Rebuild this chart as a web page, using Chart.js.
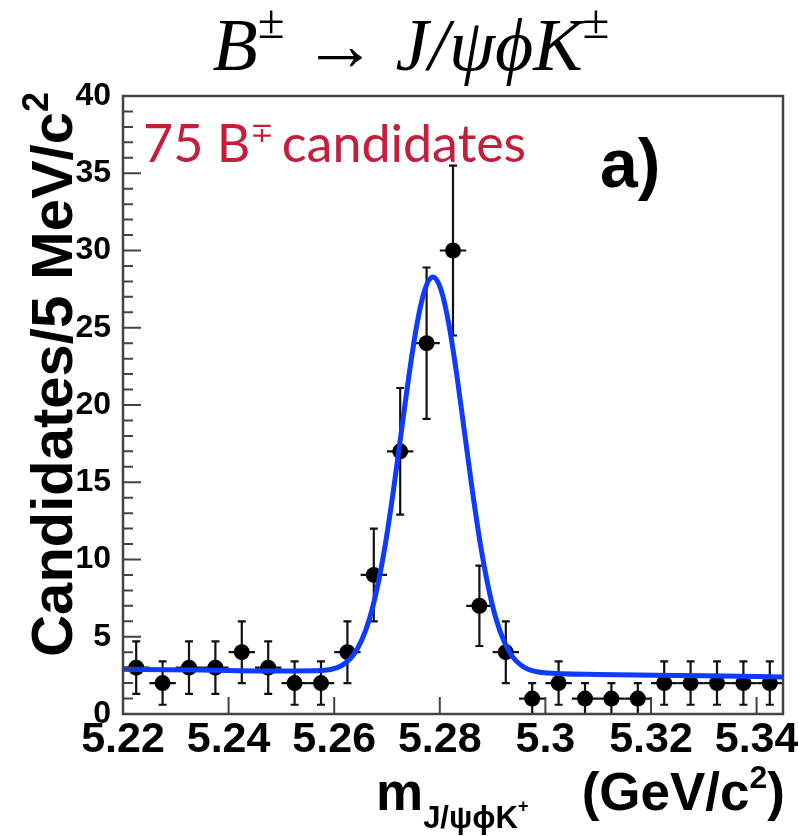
<!DOCTYPE html>
<html>
<head>
<meta charset="utf-8">
<script src="https://cdn.jsdelivr.net/npm/chart.js@4.4.0/dist/chart.umd.min.js"></script>
<style>
  html, body { margin: 0; padding: 0; background: #fff; }
  #wrap { width: 798px; height: 836px; }
</style>
</head>
<body>
<div id="wrap"><canvas id="massChart" width="798" height="836"></canvas></div>
<script>
// 5 MeV bins, centres in GeV/c^2
const binCenters = [5.2225, 5.2275, 5.2325, 5.2375, 5.2425, 5.2475, 5.2525, 5.2575, 5.2625, 5.2675,
                    5.2725, 5.2775, 5.2825, 5.2875, 5.2925, 5.2975, 5.3025, 5.3075, 5.3125, 5.3175,
                    5.3225, 5.3275, 5.3325, 5.3375, 5.3425];
const candidates = [3, 2, 3, 3, 4, 3, 2, 2, 4, 9, 17, 24, 30, 7, 4, 1, 2, 1, 1, 1, 2, 2, 2, 2, 2];
const candErrors = [1.7, 1.4, 1.7, 1.7, 2.0, 1.7, 1.4, 1.4, 2.0, 3.0, 4.1, 4.9, 5.5, 2.6, 2.0, 1.0, 1.4,
                    1.0, 1.0, 1.0, 1.4, 1.4, 1.4, 1.4, 1.4];
const binHalfWidth = 0.0025;

// fit curve
const fitX = [5.220, 5.235, 5.250, 5.2577, 5.2607, 5.2622, 5.2637, 5.2652, 5.2667, 5.2682, 5.2697,
              5.2712, 5.2727, 5.2742, 5.2757, 5.2772, 5.2787, 5.2802, 5.2817, 5.2832, 5.2847, 5.2862,
              5.2877, 5.2892, 5.2907, 5.2922, 5.2937, 5.2952, 5.2967, 5.2997, 5.310, 5.330, 5.345];
const fitY = [2.90, 2.84, 2.78, 2.81, 3.02, 3.32, 3.85, 4.77, 6.18, 8.26, 11.02,
              14.43, 18.23, 22.02, 25.28, 27.50, 28.28, 27.49, 25.26, 21.99, 18.19, 14.38,
              10.96, 8.19, 6.10, 4.68, 3.75, 3.21, 2.90, 2.67, 2.56, 2.48, 2.40];

const xTickValues = [5.22, 5.24, 5.26, 5.28, 5.30, 5.32, 5.34];
const xTickLabels = ['5.22', '5.24', '5.26', '5.28', '5.3', '5.32', '5.34'];
const yTickValues = [0, 5, 10, 15, 20, 25, 30, 35, 40];
const yTickLabels = ['0', '5', '10', '15', '20', '25', '30', '35', '40'];
const yMinorStep = 1;

const SANS = '"Liberation Sans", Arial, Helvetica, sans-serif';
const SERIF = '"Liberation Serif", "DejaVu Serif", "Times New Roman", serif';

// draw a run of text pieces, each {t, font, dy}
function drawRuns(ctx, runs, x, y) {
    runs.forEach(r => {
        ctx.font = r.font;
        ctx.fillText(r.t, x, y + (r.dy || 0));
        x += ctx.measureText(r.t).width + (r.gap || 0);
    });
    return x;
}
function runsWidth(ctx, runs) {
    let w = 0;
    runs.forEach(r => { ctx.font = r.font; w += ctx.measureText(r.t).width + (r.gap || 0); });
    return w;
}

// error bars under the markers
const errorBarPlugin = {
    id: 'errorBars',
    beforeDatasetsDraw(chart) {
        const { ctx, scales: { x, y } } = chart;
        ctx.save();
        ctx.strokeStyle = '#111';
        ctx.lineWidth = 2.2;
        binCenters.forEach((c, i) => {
            const px = x.getPixelForValue(c);
            const py = y.getPixelForValue(candidates[i]);
            const top = y.getPixelForValue(candidates[i] + candErrors[i]);
            const bot = y.getPixelForValue(Math.max(0, candidates[i] - candErrors[i]));
            ctx.beginPath();
            ctx.moveTo(px, top); ctx.lineTo(px, bot);
            ctx.moveTo(px - 4, top); ctx.lineTo(px + 4, top);
            ctx.moveTo(px - 4, bot); ctx.lineTo(px + 4, bot);
            ctx.moveTo(x.getPixelForValue(c - binHalfWidth), py);
            ctx.lineTo(x.getPixelForValue(c + binHalfWidth), py);
            ctx.stroke();
        });
        ctx.restore();
    }
};

// frame and inward ticks
const framePlugin = {
    id: 'frame',
    afterDatasetsDraw(chart) {
        const { ctx, chartArea: a, scales: { x, y } } = chart;
        ctx.save();
        ctx.strokeStyle = '#444';
        ctx.lineWidth = 2.5;
        ctx.strokeRect(a.left, a.top, a.right - a.left, a.bottom - a.top);
        ctx.lineWidth = 2;
        ctx.beginPath();
        for (let v = y.min; v <= y.max; v += yMinorStep) {
            const py = y.getPixelForValue(v);
            const len = yTickValues.includes(v) ? 18 : 10;
            ctx.moveTo(a.left, py); ctx.lineTo(a.left + len, py);
        }
        xTickValues.forEach(v => {
            const px = x.getPixelForValue(v);
            ctx.moveTo(px, a.bottom); ctx.lineTo(px, a.bottom - 17);
        });
        ctx.stroke();
        ctx.restore();
    }
};

// title, axis titles and annotations
const textPlugin = {
    id: 'texts',
    afterDraw(chart) {
        const { ctx, chartArea: a } = chart;
        ctx.save();
        ctx.textBaseline = 'alphabetic';
        ctx.textAlign = 'left';
        ctx.fillStyle = '#000';

        // title B± → J/ψϕK±
        const tF = 74;
        const title = [
            { t: 'B', font: `italic ${tF}px ${SERIF}` },
            { t: '\u00b1', font: `${Math.round(tF * 0.66)}px ${SERIF}`, dy: -32 },
            { t: ' \u2192 ', font: `${tF}px ${SERIF}` },
            { t: 'J/\u03c8\u03d5K', font: `italic ${tF}px ${SERIF}` },
            { t: '\u00b1', font: `${Math.round(tF * 0.66)}px ${SERIF}`, dy: -32 }
        ];
        drawRuns(ctx, title, 411 - runsWidth(ctx, title) / 2, 70);

        // y axis title
        ctx.save();
        ctx.translate(72, a.top - 4);
        ctx.rotate(-Math.PI / 2);
        const yt = [
            { t: 'Candidates/5 MeV/c', font: `bold 58px ${SANS}` },
            { t: '2', font: `bold 36px ${SANS}`, dy: -24 }
        ];
        drawRuns(ctx, yt, -runsWidth(ctx, yt), 0);
        ctx.restore();

        // x axis title
        const xt = [
            { t: '(GeV/c', font: `bold 53px ${SANS}` },
            { t: '2', font: `bold 32px ${SANS}`, dy: -22 },
            { t: ')', font: `bold 53px ${SANS}` }
        ];
        drawRuns(ctx, xt, a.right + 2 - runsWidth(ctx, xt), 810);
        drawRuns(ctx, [
            { t: 'm', font: `bold 53px ${SANS}` },
            { t: 'J/\u03c8\u03d5K', font: `bold 31px ${SANS}`, dy: 18 },
            { t: '+', font: `bold 18px ${SANS}`, dy: 2 }
        ], 376, 810);

        // candidates label
        ctx.fillStyle = '#c41e3a';
        drawRuns(ctx, [
            { t: '75 B', font: `52px Lato, "Open Sans", sans-serif` },
            { t: '\u2213', font: `28px "DejaVu Sans", sans-serif`, dy: -20, gap: 8 },
            { t: 'candidates', font: `52px Lato, "Open Sans", sans-serif` }
        ], 143, 162);

        // panel label
        ctx.fillStyle = '#000';
        ctx.font = `bold 68px ${SANS}`;
        ctx.fillText('a)', 600, 187);
        ctx.restore();
    }
};

const ctx = document.getElementById('massChart').getContext('2d');
new Chart(ctx, {
    type: 'scatter',
    data: {
        datasets: [
            {
                label: 'fit',
                type: 'line',
                data: fitX.map((v, i) => ({ x: v, y: fitY[i] })),
                borderColor: '#0d3bff',
                borderWidth: 5,
                pointRadius: 0,
                fill: false,
                cubicInterpolationMode: 'monotone',
                order: 0
            },
            {
                label: 'candidates',
                data: binCenters.map((v, i) => ({ x: v, y: candidates[i] })),
                backgroundColor: '#000',
                borderWidth: 0,
                pointRadius: 8,
                order: 1
            }
        ]
    },
    options: {
        responsive: false,
        animation: false,
        events: [],
        layout: { padding: { top: 96, right: 15, left: 0, bottom: 0 } },
        plugins: {
            legend: { display: false },
            tooltip: { enabled: false }
        },
        scales: {
            x: {
                type: 'linear',
                min: 5.22,
                max: 5.345,
                grid: { display: false },
                border: { display: false },
                afterBuildTicks: s => { s.ticks = xTickValues.map(v => ({ value: v })); },
                afterFit: s => { s.height = 122; s.paddingLeft = 0; s.paddingRight = 0; },
                ticks: {
                    autoSkip: false,
                    maxRotation: 0,
                    padding: -8,
                    color: '#000',
                    font: { family: SANS, size: 43, weight: 'bold' },
                    callback: (v, i) => xTickLabels[i]
                }
            },
            y: {
                min: 0,
                max: 40,
                grid: { display: false },
                border: { display: false },
                afterBuildTicks: s => { s.ticks = yTickValues.map(v => ({ value: v })); },
                afterFit: s => { s.width = 123; },
                ticks: {
                    padding: 4,
                    color: '#000',
                    font: { family: SANS, size: 32, weight: 'bold' },
                    callback: (v, i) => yTickLabels[i]
                }
            }
        }
    },
    plugins: [errorBarPlugin, framePlugin, textPlugin]
});
</script>
</body>
</html>
